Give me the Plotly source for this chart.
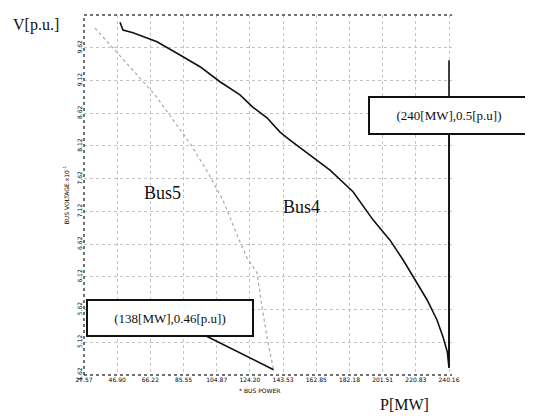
import plotly.graph_objects as go

# ---- data ----
bus4_p = [48.54, 50.29, 56.11, 70.09, 83.48, 95.13, 106.78, 118.43, 126.00, 134.16,
          141.73, 147.55, 170.85, 184.25, 195.90, 205.80, 213.37, 219.19, 227.35,
          233.17, 236.67, 239.2, 240.16, 240.16]
bus4_v = [10.01, 9.89, 9.85, 9.71, 9.51, 9.33, 9.10, 8.90, 8.71, 8.55,
          8.33, 8.21, 7.75, 7.42, 6.99, 6.68, 6.38, 6.12, 5.77,
          5.46, 5.20, 4.97, 4.73, 9.43]
bus5_p = [33.98, 68.92, 89.31, 93.39, 99.79, 108.53, 113.77, 116.68, 122.51, 128.33,
          131.24, 134.74, 138.0]
bus5_v = [9.92, 8.90, 8.16, 7.98, 7.71, 7.29, 6.94, 6.76, 6.41, 6.18,
          5.66, 5.11, 4.70]

x_ticks = [27.57, 46.90, 66.22, 85.55, 104.87, 124.20, 143.53, 162.85, 182.18, 201.51, 220.83, 240.16]
x_tick_labels = ["27.57", "46.90", "66.22", "85.55", "104.87", "124.20", "143.53",
                 "162.85", "182.18", "201.51", "220.83", "240.16"]
y_ticks = [4.62, 5.12, 5.62, 6.12, 6.62, 7.12, 7.62, 8.12, 8.62, 9.12, 9.62, 10.12]
y_tick_labels = ["4.62", "5.12", "5.62", "6.12", "6.62", "7.12", "7.62", "8.12",
                 "8.62", "9.12", "9.62", "10.12"]

bus5_nose = (138.0, 4.70, "(138[MW],0.46[p.u])")
bus4_nose = (240.16, 4.73, "(240[MW],0.5[p.u])")

serif = "Liberation Serif"
tickfont = dict(family="DejaVu Sans", size=6, color="#000000")

fig = go.Figure()
fig.add_trace(go.Scatter(x=bus5_p, y=bus5_v, mode="lines",
                         line=dict(color="#a8a8a8", width=1.2, dash="dot"),
                         showlegend=False, hoverinfo="skip"))
fig.add_trace(go.Scatter(x=bus4_p, y=bus4_v, mode="lines",
                         line=dict(color="#111111", width=1.6),
                         showlegend=False, hoverinfo="skip"))

xr = [x_ticks[0], 241.9]
yr = [y_ticks[0], y_ticks[-1]]

fig.update_xaxes(range=xr, tickvals=x_ticks, ticktext=x_tick_labels, automargin=False,
                 showgrid=True, gridcolor="#c4c4c4", griddash="dot", gridwidth=1,
                 zeroline=False, showline=False, ticks="", tickfont=tickfont)
fig.update_yaxes(range=yr, tickvals=y_ticks, ticktext=y_tick_labels, tickangle=-90,
                 automargin=False,
                 showgrid=True, gridcolor="#c4c4c4", griddash="dot", gridwidth=1,
                 zeroline=False, showline=False, ticks="", tickfont=tickfont)

# frame edges (dotted)
for x0, y0, x1, y1 in [(0, 0, 0, 1), (0, 1, 1, 1), (0, 0, 1, 0)]:
    fig.add_shape(type="line", xref="paper", yref="paper", x0=x0, y0=y0, x1=x1, y1=y1,
                  line=dict(color="#444", width=1.5, dash="dot"))

# callouts
fig.add_annotation(x=bus5_nose[0], y=bus5_nose[1], text=bus5_nose[2],
                   showarrow=True, arrowhead=0, arrowwidth=1.6, arrowcolor="#111",
                   ax=-104, ay=-52, width=158, height=28, borderpad=3,
                   bordercolor="#111", borderwidth=2, bgcolor="white",
                   font=dict(family=serif, size=13, color="#111"))
fig.add_annotation(x=bus4_nose[0], y=bus4_nose[1], text=bus4_nose[2],
                   showarrow=True, arrowhead=0, arrowwidth=1.6, arrowcolor="#111",
                   ax=0, ay=-252, width=152, height=29, borderpad=3,
                   bordercolor="#111", borderwidth=2, bgcolor="white",
                   font=dict(family=serif, size=13, color="#111"))

# labels
def label(x, y, text, font, angle=0):
    fig.add_annotation(xref="paper", yref="paper", x=x, y=y, text=text,
                       xanchor="center", yanchor="middle", textangle=angle,
                       showarrow=False, font=font)

label(0.212, 0.506, "Bus5", dict(family=serif, size=18, color="#111"))
label(0.592, 0.467, "Bus4", dict(family=serif, size=18, color="#111"))
label(-0.130, 0.972, "V[p.u.]", dict(family=serif, size=16, color="#111"))
label(0.872, -0.083, "P[MW]", dict(family=serif, size=16, color="#111"))
label(0.478, -0.042, "* BUS POWER", dict(family="DejaVu Sans", size=6, color="#000"))
label(-0.048, 0.5, "BUS VOLTAGE x10<sup>-1</sup>",
      dict(family="DejaVu Sans", size=6, color="#000"), angle=-90)

# page body has an 8px margin, so the figure is made 8px smaller and margins trimmed
fig.update_layout(width=525, height=411, margin=dict(l=76, r=81, t=7, b=44),
                  paper_bgcolor="white", plot_bgcolor="white")

fig.write_html("out.html")
